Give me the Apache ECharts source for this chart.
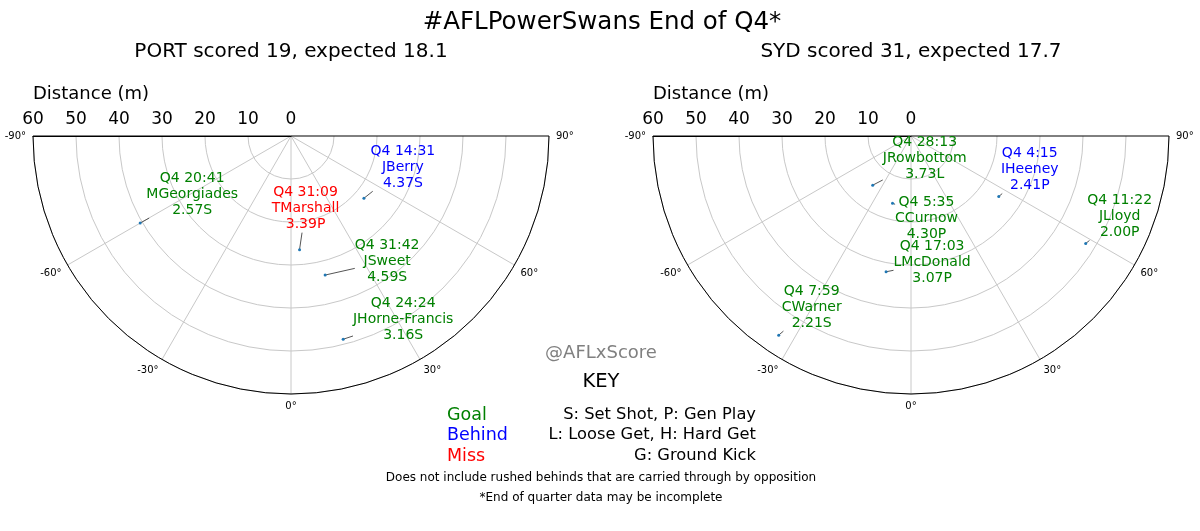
<!DOCTYPE html>
<html>
<head>
<meta charset="utf-8">
<script src="https://cdn.jsdelivr.net/npm/echarts@6/dist/echarts.min.js"></script>
<style>
  html, body { margin: 0; padding: 0; background: #fff; }
  #main { width: 1200px; height: 531px; }
</style>
</head>
<body>
<div id="main"></div>
<script>
// 角度刻度 / 距离刻度
var angleTicks = [-90, -60, -30, 0, 30, 60, 90];
var distanceTicks = [0, 10, 20, 30, 40, 50, 60];

// PORT 射门
var portTimes = ['Q4 20:41', 'Q4 14:31', 'Q4 31:09', 'Q4 31:42', 'Q4 24:24'];
var portPlayers = ['MGeorgiades', 'JBerry', 'TMarshall', 'JSweet', 'JHorne-Francis'];
var portXScore = [2.57, 4.37, 3.39, 4.59, 3.16];
var portShotType = ['S', 'S', 'P', 'S', 'S'];
var portResults = ['Goal', 'Behind', 'Miss', 'Goal', 'Goal'];
var portAngles = [-60, 49.5, 4.3, 13.8, 14.4];
var portDistances = [40.5, 22.3, 26.5, 33.3, 48.8];

// SYD 射门
var sydTimes = ['Q4 28:13', 'Q4 4:15', 'Q4 11:22', 'Q4 5:35', 'Q4 17:03', 'Q4 7:59'];
var sydPlayers = ['JRowbottom', 'IHeeney', 'JLloyd', 'CCurnow', 'LMcDonald', 'CWarner'];
var sydXScore = [3.73, 2.41, 2.00, 4.30, 3.07, 2.21];
var sydShotType = ['L', 'P', 'P', 'P', 'P', 'S'];
var sydResults = ['Goal', 'Behind', 'Goal', 'Goal', 'Goal', 'Goal'];
var sydAngles = [-37.9, 55.4, 58.4, -15.4, -10.4, -33.6];
var sydDistances = [14.5, 24.8, 47.7, 16.2, 32.1, 55.6];

// 标签相对点的偏移 (px)
var portLabelOffsets = [[52, -29], [39, -31], [6, -41], [62, -14], [60, -20]];
var sydLabelOffsets = [[52, -27], [31, -27], [34, -27], [34, 15], [46, -9], [33, -28]];

var resultColors = { Goal: '#008000', Behind: '#0000ff', Miss: '#ff0000' };
var FONT = 'DejaVu Sans';
var LABEL_FONT = '14px "DejaVu Sans"';
var LABEL_LH = 16;

// 量文字宽度
var measureCtx = document.createElement('canvas').getContext('2d');
measureCtx.font = LABEL_FONT;
function textWidth(s) {
    return measureCtx.measureText(s).width;
}

function angleAxisOf(idx) {
    return {
        polarIndex: idx,
        type: 'value',
        min: -90,
        max: 90,
        interval: 30,
        startAngle: 180,
        endAngle: 360,
        clockwise: false,
        axisLine: { lineStyle: { color: '#000', width: 1 } },
        axisTick: { show: false },
        axisLabel: {
            formatter: '{value}°',
            fontFamily: FONT,
            fontSize: 10,
            color: '#000',
            margin: 7
        },
        splitLine: {
            lineStyle: {
                color: ['#000', '#c8c8c8', '#c8c8c8', '#c8c8c8', '#c8c8c8', '#c8c8c8', '#000'],
                width: 1
            }
        }
    };
}

function radiusAxisOf(idx) {
    return {
        polarIndex: idx,
        type: 'value',
        min: 0,
        max: 60,
        interval: 10,
        axisLine: { lineStyle: { color: '#000', width: 1 } },
        axisTick: { show: false },
        axisLabel: {
            fontFamily: FONT,
            fontSize: 17,
            color: '#000',
            margin: -25
        },
        splitLine: { lineStyle: { color: '#c8c8c8', width: 1 } }
    };
}

// 每个射门: 点 + 指向标签的短线 + 三行标签
function shotSeries(idx, times, players, xs, types, results, angles, dists, offsets) {
    return {
        type: 'custom',
        coordinateSystem: 'polar',
        polarIndex: idx,
        data: dists.map(function (d, i) { return [d, angles[i]]; }),
        renderItem: function (params, api) {
            var i = params.dataIndex;
            var p = api.coord([api.value(0), api.value(1)]);
            var lines = [times[i], players[i], xs[i].toFixed(2) + types[i]];
            var cx = p[0] + offsets[i][0];
            var cy = p[1] + offsets[i][1];
            // 线从点出发，停在标签框边上
            var hw = Math.max.apply(null, lines.map(textWidth)) / 2;
            var hh = lines.length * LABEL_LH / 2;
            var dx = p[0] - cx, dy = p[1] - cy;
            var t = Math.min(dx ? hw / Math.abs(dx) : Infinity, dy ? hh / Math.abs(dy) : Infinity);
            var children = [];
            if (t < 1) {
                children.push({
                    type: 'line',
                    shape: { x1: p[0], y1: p[1], x2: cx + dx * t, y2: cy + dy * t },
                    style: { stroke: '#555', lineWidth: 1 }
                });
            }
            children.push({
                type: 'circle',
                shape: { cx: p[0], cy: p[1], r: 1.5 },
                style: { fill: '#1f77b4' }
            });
            children.push({
                type: 'text',
                x: cx,
                y: cy,
                style: {
                    text: lines.join('\n'),
                    font: LABEL_FONT,
                    fill: resultColors[results[i]],
                    textAlign: 'center',
                    textVerticalAlign: 'middle',
                    lineHeight: LABEL_LH
                }
            });
            return { type: 'group', children: children };
        }
    };
}

function txt(x, y, text, size, color, align) {
    return {
        type: 'text',
        x: x,
        y: y,
        style: {
            text: text,
            fontFamily: FONT,
            fontSize: size,
            fill: color || '#000',
            textAlign: align || 'center',
            textVerticalAlign: 'middle'
        }
    };
}

var chart = echarts.init(document.getElementById('main'));

var option = {
    backgroundColor: '#fff',
    animation: false,
    polar: [
        { center: [291, 136], radius: 258 },
        { center: [911, 136], radius: 258 }
    ],
    angleAxis: [angleAxisOf(0), angleAxisOf(1)],
    radiusAxis: [radiusAxisOf(0), radiusAxisOf(1)],
    series: [
        shotSeries(0, portTimes, portPlayers, portXScore, portShotType, portResults, portAngles, portDistances, portLabelOffsets),
        shotSeries(1, sydTimes, sydPlayers, sydXScore, sydShotType, sydResults, sydAngles, sydDistances, sydLabelOffsets)
    ],
    graphic: [
        txt(602, 23, '#AFLPowerSwans End of Q4*', 24.5),
        txt(291, 52, 'PORT scored 19, expected 18.1', 20),
        txt(911, 52, 'SYD scored 31, expected 17.7', 20),
        txt(33, 94, 'Distance (m)', 18, '#000', 'left'),
        txt(653, 94, 'Distance (m)', 18, '#000', 'left'),
        txt(601, 353, '@AFLxScore', 18, '#808080'),
        txt(601, 382, 'KEY', 19.5),
        txt(447, 415, 'Goal', 17.5, resultColors.Goal, 'left'),
        txt(447, 435, 'Behind', 17.5, resultColors.Behind, 'left'),
        txt(447, 456, 'Miss', 17.5, resultColors.Miss, 'left'),
        txt(756, 415, 'S: Set Shot, P: Gen Play', 16.3, '#000', 'right'),
        txt(756, 435, 'L: Loose Get, H: Hard Get', 16.3, '#000', 'right'),
        txt(756, 456, 'G: Ground Kick', 16.3, '#000', 'right'),
        txt(601, 478, 'Does not include rushed behinds that are carried through by opposition', 12),
        txt(601, 498, '*End of quarter data may be incomplete', 12)
    ]
};

chart.setOption(option);
</script>
</body>
</html>
